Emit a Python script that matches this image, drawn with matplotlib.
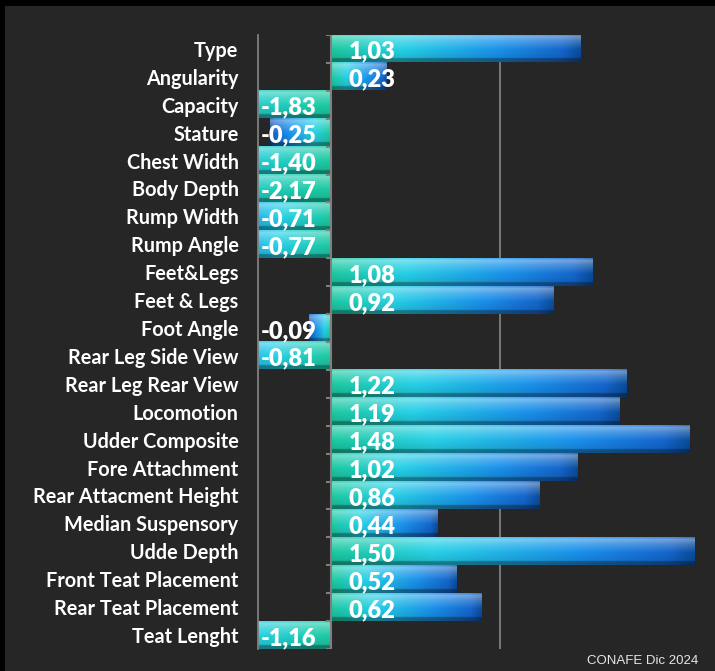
import numpy as np
import matplotlib.pyplot as plt
from matplotlib.colors import to_rgb

# datos (CONAFE Dic 2024)
traits = ['Type', 'Angularity', 'Capacity', 'Stature', 'Chest Width', 'Body Depth',
          'Rump Width', 'Rump Angle', 'Feet&Legs', 'Feet & Legs', 'Foot Angle',
          'Rear Leg Side View', 'Rear Leg Rear View', 'Locomotion', 'Udder Composite',
          'Fore Attachment', 'Rear Attacment Height', 'Median Suspensory', 'Udde Depth',
          'Front Teat Placement', 'Rear Teat Placement', 'Teat Lenght']
values = [1.03, 0.23, -1.83, -0.25, -1.40, -2.17, -0.71, -0.77, 1.08, 0.92, -0.09,
          -0.81, 1.22, 1.19, 1.48, 1.02, 0.86, 0.44, 1.50, 0.52, 0.62, -1.16]

BG = '#262626'
FONT = ['Lato', 'DejaVu Sans']


def bar_gradient(nx=200, ny=40):
    # horizontal: teal at the base -> cyan -> blue at the end
    stops = [(0.0, '#1cc9a0'), (0.28, '#26d0e6'), (0.68, '#1a90ea'),
             (0.93, '#1466cc'), (1.0, '#0a4c9c')]
    t = np.linspace(0, 1, nx)
    cols = np.zeros((nx, 3))
    for k in range(3):
        cols[:, k] = np.interp(t, [s[0] for s in stops], [to_rgb(s[1])[k] for s in stops])
    # vertical: bright top edge, darker bottom strip
    v = np.linspace(0, 1, ny)
    light = np.interp(v, [0, 0.08, 0.25, 0.55, 0.86, 0.88, 1.0],
                      [0.2, 0.4, 0.22, 0.0, -0.1, -0.4, -0.4])
    img = np.empty((ny, nx, 3))
    for j in range(ny):
        if light[j] >= 0:
            img[j] = cols + (1 - cols) * light[j]
        else:
            img[j] = cols * (1 + light[j])
    return np.clip(img, 0, 1)


grad = bar_gradient()

fig = plt.figure(figsize=(7.15, 6.71), dpi=100, facecolor=BG)
# black frame on the top and left edges
fig.patches.append(plt.Rectangle((0, 1 - 6 / 671), 1, 6 / 671, transform=fig.transFigure,
                                 facecolor='black', edgecolor='none'))
fig.patches.append(plt.Rectangle((0, 0), 5 / 715, 1, transform=fig.transFigure,
                                 facecolor='black', edgecolor='none'))

# plot area: x 258..715 px, y 35..649 px
ax = fig.add_axes([258 / 715, 1 - 649 / 671, 1 - 258 / 715, (649 - 35) / 671])
ax.set_facecolor(BG)

n = len(traits)
ypos = np.arange(n)[::-1]
h = 0.97
xmin, xmax = -0.30, 1.588

for yc, v in zip(ypos, values):
    ax.imshow(grad, extent=(0, v, yc - h / 2, yc + h / 2), origin='upper',
              aspect='auto', interpolation='bilinear', zorder=2)
    txt = f'{v:.2f}'.replace('.', ',')
    x0 = 0.075 if v >= 0 else xmin + 0.01
    ax.text(x0, yc - 0.1, txt, ha='left', va='center', color='white',
            fontsize=17, fontweight='heavy', family=FONT, zorder=5)

ax.set_xlim(xmin, xmax)
ax.set_ylim(-0.5, n - 0.5)

# gridline and zero axis with category ticks
ax.axvline(0.7, color='#7f7f7f', lw=1.3, zorder=1)
ax.axvline(0, color='#7f7f7f', lw=1.5, zorder=3)
ax.hlines(np.arange(n + 1) - 0.5, -0.02, 0, color='#7f7f7f', lw=1.5, zorder=3)

ax.set_yticks(ypos)
ax.set_yticklabels(traits, color='white', fontsize=14.3, fontweight='bold', family=FONT)
ax.tick_params(axis='y', length=0, pad=14)
ax.set_xticks([])
for s in ['top', 'right', 'bottom']:
    ax.spines[s].set_visible(False)
ax.spines['left'].set_color('#7f7f7f')
ax.spines['left'].set_linewidth(1.3)

fig.text(698 / 715, 1 - 661 / 671, 'CONAFE Dic 2024', ha='right', va='center',
         color='#e6e6e6', fontsize=9.5, family='Liberation Sans')

fig.savefig('out.png', dpi=100, facecolor=BG)
